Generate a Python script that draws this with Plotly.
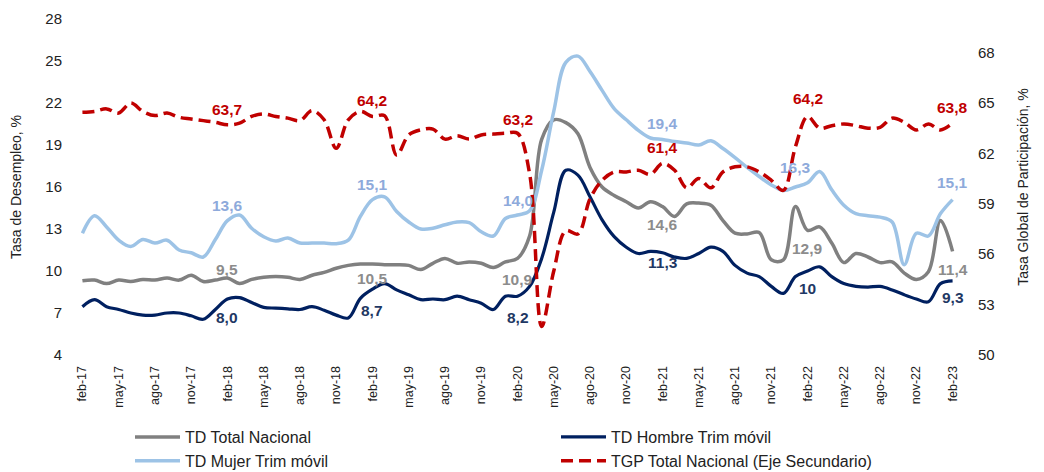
import plotly.graph_objects as go

month_names = ["ene", "feb", "mar", "abr", "may", "jun", "jul", "ago", "sep", "oct", "nov", "dic"]
months = []
for k in range(73):
    m = (1 + k) % 12
    yr = 17 + (1 + k) // 12
    months.append(f"{month_names[m]}-{yr}")

td_total = [9.3, 9.35, 9.1, 9.35, 9.25, 9.4, 9.35, 9.5, 9.35, 9.7, 9.25, 9.35,
            9.5, 9.1, 9.4, 9.55, 9.6, 9.55, 9.4, 9.7, 9.9, 10.2, 10.4, 10.5,
            10.5, 10.45, 10.45, 10.4, 10.1, 10.55, 10.9, 10.55, 10.65, 10.55, 10.25, 10.65,
            10.9, 12.5, 19.4, 20.8, 20.6, 19.8, 17.4, 16.0, 15.4, 14.95, 14.5, 14.95,
            14.6, 13.9, 14.8, 14.85, 14.7, 13.6, 12.7, 12.65, 12.75, 10.8, 10.8, 14.6,
            12.9, 13.15, 12.0, 10.6, 11.25, 11.0, 10.6, 10.65, 9.85, 9.4, 9.95, 13.6,
            11.4]

td_hombre = [7.45, 7.95, 7.45, 7.25, 7.0, 6.85, 6.85, 7.0, 7.0, 6.8, 6.55, 7.25,
             8.0, 8.1, 7.75, 7.4, 7.35, 7.3, 7.25, 7.45, 7.2, 6.85, 6.65, 8.05,
             8.7, 9.1, 8.65, 8.3, 7.95, 8.0, 7.95, 8.2, 7.95, 7.7, 7.25, 8.2,
             8.2, 8.9, 10.9, 14.2, 17.2, 16.85, 15.3, 13.65, 12.45, 11.7, 11.25, 11.4,
             11.3, 11.0, 10.9, 11.25, 11.7, 11.4, 10.4, 9.85, 9.6, 8.9, 8.4, 9.6,
             10.0, 10.3, 9.6, 9.1, 8.9, 8.85, 8.9, 8.65, 8.3, 8.0, 7.8, 9.1,
             9.3]

td_mujer = [12.7, 13.95, 13.15, 12.2, 11.75, 12.25, 12.0, 12.2, 11.5, 11.3, 11.0, 12.25,
            13.6, 14.0, 13.05, 12.45, 12.15, 12.35, 12.0, 12.0, 12.0, 11.95, 12.2, 13.9,
            15.1, 15.3, 14.25, 13.5, 13.0, 13.05, 13.3, 13.5, 13.45, 12.8, 12.5, 13.75,
            14.0, 14.3, 17.2, 21.4, 24.9, 25.35, 24.25, 22.9, 21.6, 20.8, 20.05, 19.5,
            19.4, 19.25, 19.15, 19.0, 19.3, 18.75, 18.1, 17.4, 16.75, 16.15, 15.75, 16.0,
            16.3, 17.1, 15.8, 14.7, 14.1, 13.95, 13.85, 13.5, 10.45, 12.7, 12.5, 14.1,
            15.1]

tgp_total = [64.45, 64.5, 64.65, 64.4, 65.0, 64.5, 64.25, 64.4, 64.15, 64.05, 63.95, 63.85,
             63.7, 63.8, 64.2, 64.35, 64.2, 64.1, 63.95, 64.55, 64.0, 62.3, 64.0, 64.5,
             64.2, 64.25, 61.9, 63.1, 63.4, 63.45, 62.85, 63.05, 62.85, 63.1, 63.15, 63.2,
             63.2, 60.8, 51.7, 55.0, 57.4, 57.2, 59.3, 60.4, 60.9, 60.9, 61.0, 60.75,
             61.4, 61.0, 59.95, 60.5, 59.95, 60.9, 61.2, 61.2, 60.9, 60.4, 59.8, 62.4,
             64.2, 63.5, 63.65, 63.75, 63.65, 63.5, 63.55, 64.1, 63.85, 63.4, 63.75, 63.4,
             63.8]

label_idx = [12, 24, 36, 48, 60, 72]
total_labels = ["9,5", "10,5", "10,9", "14,6", "12,9", "11,4"]
hombre_labels = ["8,0", "8,7", "8,2", "11,3", "10", "9,3"]
mujer_labels = ["13,6", "15,1", "14,0", "19,4", "16,3", "15,1"]
tgp_labels = ["63,7", "64,2", "63,2", "61,4", "64,2", "63,8"]

# label offsets in pixels (positive = up)
total_shift = [9, -14, -21, -18, -18, -18]
hombre_shift = [-18, -21, -21, -10, -17, -17]
mujer_shift = [15, 15, 15, 16, 15, 17]
tgp_shift = [15, 16, 14, 16, 18, 16]
mujer_xshift = [0, 0, 0, 0, -12, 0]

C_GRAY = "#808080"
C_NAVY = "#002060"
C_LIGHT = "#9DC3E6"
C_RED = "#C00000"
FONT = "Liberation Sans"
TXT = "#222222"

fig = go.Figure()
fig.add_trace(go.Scatter(x=months, y=td_total, name="TD Total Nacional", mode="lines", legend="legend",
                         line=dict(color=C_GRAY, width=3.5, shape="spline", smoothing=1.0)))
fig.add_trace(go.Scatter(x=months, y=td_hombre, name="TD Hombre Trim móvil", mode="lines", legend="legend2",
                         line=dict(color=C_NAVY, width=3.2, shape="spline", smoothing=1.0)))
fig.add_trace(go.Scatter(x=months, y=td_mujer, name="TD Mujer Trim móvil", mode="lines", legend="legend",
                         line=dict(color=C_LIGHT, width=3.5, shape="spline", smoothing=1.0)))
fig.add_trace(go.Scatter(x=months, y=tgp_total, name="TGP Total Nacional (Eje Secundario)", mode="lines",
                         yaxis="y2", legend="legend2",
                         line=dict(color=C_RED, width=3.5, dash="12px,6px", shape="spline", smoothing=1.0)))

annotations = []


def add_labels(yvals, texts, color, shifts, axis="y", xshifts=None):
    for j, i in enumerate(label_idx):
        annotations.append(dict(
            x=months[i], y=yvals[i], xref="x", yref=axis, text=texts[j], showarrow=False,
            yshift=shifts[j], xshift=(xshifts[j] if xshifts else 0),
            font=dict(family=FONT, size=15.5, color=color, weight="bold")))


add_labels(td_total, total_labels, "#8C8C8C", total_shift)
add_labels(td_hombre, hombre_labels, "#1F3864", hombre_shift)
add_labels(td_mujer, mujer_labels, "#8EAADB", mujer_shift, xshifts=mujer_xshift)
add_labels(tgp_total, tgp_labels, C_RED, tgp_shift, axis="y2")

# page has an 8px body margin: figure drawn at (8, 8)
W, H = 1036, 464
L, R, T, B = 72, 89, 11, 117
pw = W - L - R
ph = H - T - B

leg_y = -(412 - (T + ph)) / ph
leg_common = dict(orientation="v", yanchor="top", y=leg_y, xanchor="left", itemwidth=45,
                  font=dict(family=FONT, size=16, color=TXT),
                  bgcolor="rgba(0,0,0,0)", traceorder="normal", tracegroupgap=0)

fig.update_layout(
    template="none",
    width=W, height=H,
    margin=dict(l=L, r=R, t=T, b=B, autoexpand=False),
    paper_bgcolor="white", plot_bgcolor="white",
    font=dict(family=FONT, color=TXT),
    showlegend=True,
    legend=dict(leg_common, x=(122 - L) / pw),
    legend2=dict(leg_common, x=(548 - L) / pw),
    annotations=annotations,
    xaxis=dict(type="category", range=[-0.2, 72.2], tickmode="array",
               tickvals=months[::3], ticktext=months[::3], tickangle=-90,
               tickfont=dict(family=FONT, size=12.5, color=TXT),
               ticks="outside", ticklen=5, tickcolor="rgba(0,0,0,0)",
               showgrid=False, showline=False, zeroline=False, automargin=False),
    yaxis=dict(range=[4, 28], tickmode="array", tickvals=[4, 7, 10, 13, 16, 19, 22, 25, 28],
               tickfont=dict(family=FONT, size=15, color=TXT),
               ticks="outside", ticklen=14, tickcolor="rgba(0,0,0,0)",
               showgrid=False, showline=False, zeroline=False, automargin=False,
               title=dict(text="Tasa de Desempleo, %", font=dict(family=FONT, size=14, color=TXT),
                          standoff=20)),
    yaxis2=dict(range=[50, 70], overlaying="y", side="right", tickmode="array",
                tickvals=[50, 53, 56, 59, 62, 65, 68],
                tickfont=dict(family=FONT, size=15, color=TXT),
                ticks="outside", ticklen=19, tickcolor="rgba(0,0,0,0)",
                showgrid=False, showline=False, zeroline=False, automargin=False,
                title=dict(text="Tasa Global de Participación, %",
                           font=dict(family=FONT, size=14, color=TXT), standoff=24)),
)

fig.write_html("out.html")
